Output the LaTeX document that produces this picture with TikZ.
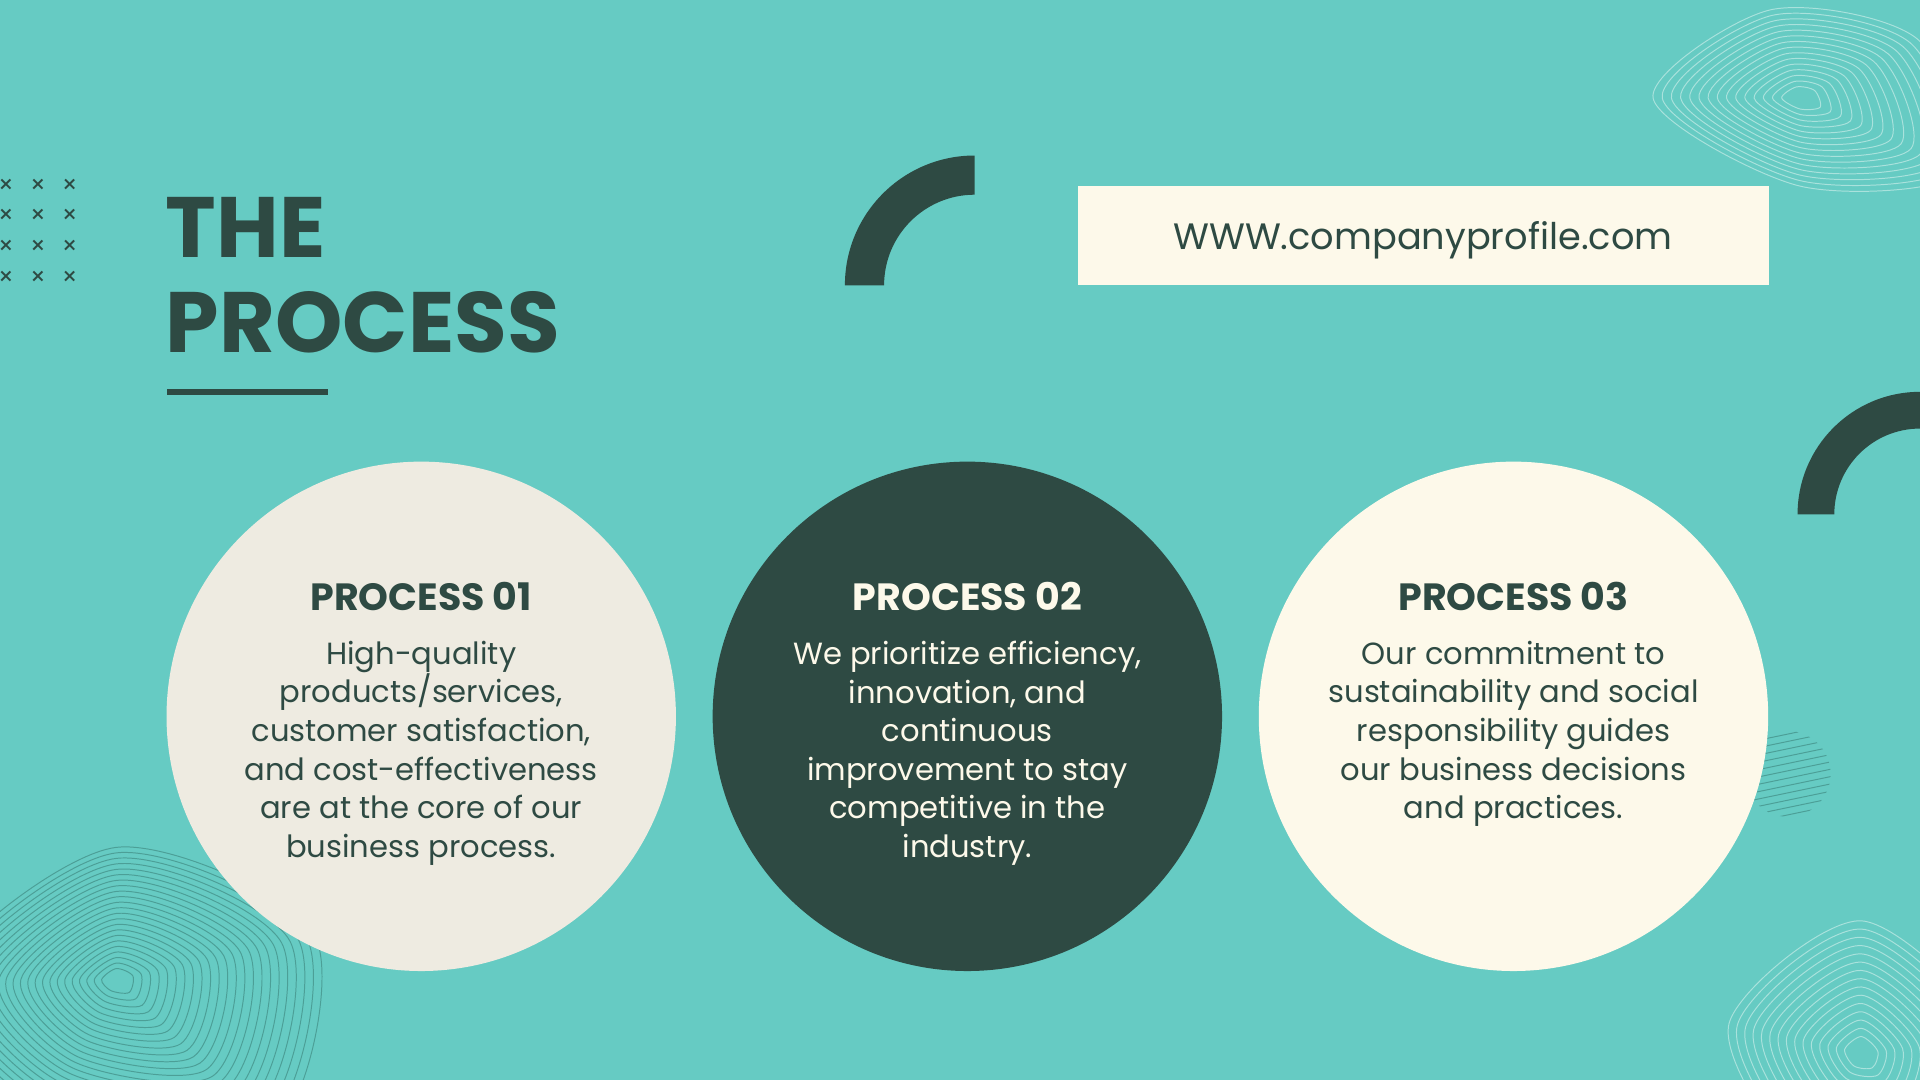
\documentclass[tikz,border=0pt]{standalone}
\usepackage{fontspec}
\setmainfont{Poppins}
\definecolor{bg}{HTML}{66CBC3}
\definecolor{dk}{HTML}{2E4A43}
\definecolor{c1}{HTML}{EEEBE1}
\definecolor{c3}{HTML}{FDF9EA}
\definecolor{lnA}{HTML}{4C9F97}
\definecolor{lnB}{HTML}{A9E2DC}
\tikzset{
  body/.style={align=center,font=\fontsize{25}{31.5}\selectfont,anchor=north},
  head/.style={font=\fontsize{31}{34}\selectfont\bfseries},
  xm/.style={text=dk,font=\fontsize{20}{20}\selectfont},
}
\begin{document}
\begin{tikzpicture}[x=1pt,y=-1pt]
\fill[bg] (0,0) rectangle (1568,882);
\useasboundingbox (0,0) rectangle (1568,882);
\begin{scope}
\clip (0,0) rectangle (1568,882);
\foreach \s in {0.3,0.45,...,3.6}
  \draw[lnA,line width=0.8pt,shift={(95,800)},scale=\s] plot[smooth cycle] coordinates {(-40,0)(0,-30)(45,-10)(35,35)(-15,30)};
\foreach \s in {0.3,0.45,...,2.4}
  \draw[lnB,line width=0.8pt,shift={(1470,80)},scale=\s] plot[smooth cycle] coordinates {(-50,0)(-10,-30)(40,-20)(55,25)(0,30)};
\foreach \s in {0.3,0.45,...,2.4}
  \draw[lnB,line width=0.8pt,shift={(1520,860)},scale=\s] plot[smooth cycle] coordinates {(-45,-10)(0,-45)(45,-5)(30,40)(-20,35)};
\end{scope}
\begin{scope}
\clip (1460,632) circle (35);
\foreach \i in {-80,-74,...,80}
  \draw[lnA,line width=0.8pt] (1400,632+\i) -- (1520,632+\i-25);
\end{scope}
\foreach \xx in {5,31,57} \foreach \yy in {152,177,202,227}
  \node[xm] (x\xx\yy) at (\xx,\yy) {×};
\node[anchor=base west,text=dk,font=\fontsize{70}{70}\selectfont\bfseries] (t1) at (132,210) {THE};
\node[anchor=base west,text=dk,font=\fontsize{70}{70}\selectfont\bfseries] (t2) at (132,288) {PROCESS};
\fill[dk] (136,317.5) rectangle (268,322.5);
\fill[dk] (690,233) arc[start angle=180,end angle=270,radius=106] -- (796,159) arc[start angle=270,end angle=180,radius=74] -- cycle;
\fill[dk] (1468,420) arc[start angle=180,end angle=270,radius=100] -- (1568,350) arc[start angle=270,end angle=180,radius=70] -- cycle;
\fill[c3] (880,152) rectangle (1445,233);
\node[text=dk,font=\fontsize{30}{30}\selectfont] (url) at (1162,196) {WWW.companyprofile.com};
\fill[c1] (344,585) circle (208);
\fill[dk] (790,585) circle (208);
\fill[c3] (1236,585) circle (208);
\node[head,text=dk] (h1) at (344,487) {PROCESS 01};
\node[head,text=c3] (h2) at (790,487) {PROCESS 02};
\node[head,text=dk] (h3) at (1236,487) {PROCESS 03};
\node[body,text=dk] (b1) at (344,520) {High-quality\\products/services,\\customer satisfaction,\\and cost-effectiveness\\are at the core of our\\business process.};
\node[body,text=c3] (b2) at (790,520) {We prioritize efficiency,\\innovation, and\\continuous\\improvement to stay\\competitive in the\\industry.};
\node[body,text=dk] (b3) at (1236,520) {Our commitment to\\sustainability and social\\responsibility guides\\our business decisions\\and practices.};
\end{tikzpicture}
\end{document}
